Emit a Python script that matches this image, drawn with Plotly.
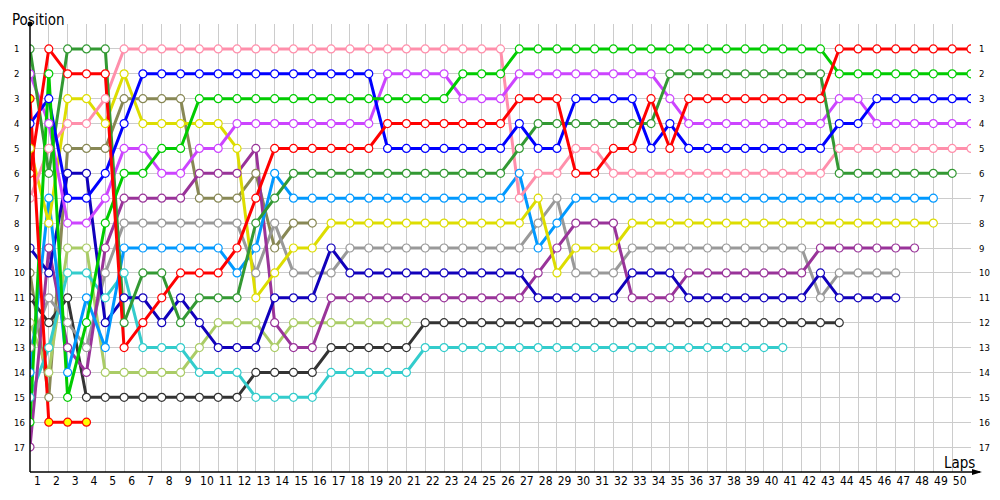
import plotly.graph_objects as go

# ---------------- data: position per lap (index 0 = grid) ----------------
pink = [7, 5, 4, 4, 3] + [1] * 21 + [7, 6, 6, 5, 5] + [6] * 12 + [5] * 8
red = [6, 1, 2, 2, 2, 13, 12, 11, 10, 10, 10, 9, 7, 5, 5, 5, 5, 5, 5] + [4] * 7 + [3, 3, 3, 6, 6, 5, 5, 3, 5] + [3] * 8 + [1] * 8
light_green = [16, 2, 15, 12, 8, 6, 6, 5, 5] + [3] * 14 + [2] * 3 + [1] * 17 + [2] * 8
dark_green = [1, 6, 1, 1, 1, 12, 10, 10, 12, 11, 11, 11, 8, 7] + [6] * 12 + [5] + [4] * 7 + [2] * 9 + [6] * 7
blue = [4, 3, 7, 7, 6, 4] + [2] * 13 + [5] * 7 + [4, 5, 5, 3, 3, 3, 3, 5, 4] + [5] * 8 + [4, 4] + [3] * 6
violet = [2, 4, 8, 8, 7, 5, 5, 6, 6, 5, 5] + [4] * 8 + [2] * 4 + [3] * 3 + [2] * 8 + [3] + [4] * 8 + [3, 3] + [4] * 6
yellow = [5, 8, 3, 3, 4, 2, 4, 4, 4, 4, 4, 5, 11, 10, 9, 9] + [8] * 11 + [7, 10, 9, 9, 9] + [8] * 17
olive = [10, 15, 5, 5, 5, 3, 3, 3, 3, 7, 7, 7, 6, 9, 8, 8]
purple = [17, 9, 13, 14, 9, 7, 7, 7, 7, 6, 6, 6, 5, 12, 13, 13] + [11] * 11 + [10, 9, 8, 8, 8, 11, 11, 11] + [10] * 7 + [9] * 6
gray = [13, 11, 12, 13, 10] + [8] * 7 + [10, 8, 10, 10, 10] + [9] * 10 + [8, 7, 10, 10, 10] + [9] * 10 + [11] + [10] * 4
light_blue = [14, 7, 14, 11, 13] + [9] * 6 + [10, 9, 6] + [7] * 12 + [6, 9, 8] + [7] * 20
dark_blue = [9, 10, 6, 6, 12, 11, 11, 12, 11, 12, 13, 13, 13, 11, 11, 11, 9] + [10] * 10 + [11] * 5 + [10] * 3 + [11] * 7 + [10] + [11] * 4
yellow_green = [12, 14, 9, 9, 14, 14, 14, 14, 14, 13, 12, 12, 12, 13] + [12] * 7
dark_gray = [11, 12, 11, 15] + [15] * 8 + [14] * 4 + [13] * 5 + [12] * 23
cyan = [15, 13, 10, 10, 11, 10, 13, 13, 13, 14, 14, 14, 15, 15, 15, 15] + [14] * 5 + [13] * 20
red_yellow = [3, 16, 16, 16]

lap_labels = [str(n) for n in range(1, 51)]
position_labels = [str(p) for p in range(1, 18)]

series = [
    ("olive", olive, "#888855", "white"),
    ("yellow_green", yellow_green, "#AACC66", "white"),
    ("dark_gray", dark_gray, "#333333", "white"),
    ("cyan", cyan, "#33CCCC", "white"),
    ("gray", gray, "#999999", "white"),
    ("purple", purple, "#993399", "white"),
    ("dark_blue", dark_blue, "#1100BB", "white"),
    ("light_blue", light_blue, "#0099FF", "white"),
    ("yellow", yellow, "#DDDD00", "white"),
    ("pink", pink, "#FF8FAB", "white"),
    ("violet", violet, "#CC44FF", "white"),
    ("dark_green", dark_green, "#339933", "white"),
    ("blue", blue, "#0000FF", "white"),
    ("light_green", light_green, "#00CC00", "white"),
    ("red", red, "#FF0000", "white"),
    ("red_yellow", red_yellow, "#FF0000", "#FFFF00"),
]

FONT = "Tahoma, 'DejaVu Sans Condensed', 'DejaVu Sans', sans-serif"

# the page body adds an 8px offset; compensate so the plot lands where the reference has it
W, H = 992, 492
PLOT_W, PLOT_H = 941, 451
ML, MT = 22, 16

fig = go.Figure()
for name, pos, col, fill in series:
    fig.add_trace(go.Scatter(x=list(range(len(pos))), y=pos, mode="lines",
                             line=dict(color=col, width=3), showlegend=False,
                             hoverinfo="skip"))
for name, pos, col, fill in series:
    fig.add_trace(go.Scatter(x=list(range(len(pos))), y=pos, mode="markers",
                             marker=dict(size=8, color=fill,
                                         line=dict(color=col, width=1.2)),
                             name=name, showlegend=False))

fig.update_layout(
    width=W, height=H,
    margin=dict(l=ML, r=W - ML - PLOT_W, t=MT, b=H - MT - PLOT_H, pad=0),
    paper_bgcolor="white", plot_bgcolor="white",
    font=dict(family=FONT, color="#000000"),
    xaxis=dict(range=[0, 50], tickvals=[n - 0.6 for n in range(1, 51)],
               ticktext=lap_labels, showgrid=False, zeroline=False,
               showline=False, ticks="", tickfont=dict(size=12, family=FONT),
               minor=dict(tickvals=list(range(0, 51)), showgrid=True,
                          gridcolor="#CCCCCC", gridwidth=1, ticks="")),
    yaxis=dict(range=[18, 0], tickvals=list(range(1, 18)), showticklabels=False,
               showgrid=True, gridcolor="#CCCCCC", gridwidth=1, zeroline=False,
               showline=False, ticks=""),
)

# axis lines
fig.add_shape(type="line", xref="paper", yref="paper", x0=0, x1=0, y0=0, y1=1,
              line=dict(color="black", width=1.5))
fig.add_shape(type="line", xref="paper", yref="paper", x0=0, x1=950 / PLOT_W, y0=0, y1=0,
              line=dict(color="black", width=1.5))
fig.add_shape(type="circle", xref="paper", yref="paper", xsizemode="pixel", ysizemode="pixel",
              xanchor=0, yanchor=1, x0=-2.5, x1=2.5, y0=-2.5, y1=2.5,
              fillcolor="black", line=dict(color="black", width=0))
fig.add_shape(type="path", xref="paper", yref="paper", xsizemode="pixel", ysizemode="pixel",
              xanchor=952 / PLOT_W, yanchor=0, path="M -10 -3 L 0 0 L -10 3 Z",
              fillcolor="black", line=dict(color="black", width=0))

# position labels (left and right)
for lbl in position_labels:
    p = int(lbl)
    fig.add_annotation(text=lbl, x=-18 / PLOT_W, y=p, xref="paper", yref="y",
                       xanchor="left", yanchor="middle", showarrow=False,
                       font=dict(size=9.5, family=FONT, color="#000000"))
    fig.add_annotation(text=lbl, x=1 + 6 / PLOT_W, y=p, xref="paper", yref="y",
                       xanchor="left", yanchor="middle", showarrow=False,
                       font=dict(size=9.5, family=FONT, color="#000000"))

fig.add_annotation(text="Position", x=-ML / PLOT_W, y=1 + MT / PLOT_H, xref="paper", yref="paper",
                   xanchor="left", yanchor="top", showarrow=False, xshift=2, yshift=-1,
                   font=dict(size=15, family=FONT, color="#000000"))
fig.add_annotation(text="Laps", x=1.0 - 12 / PLOT_W, y=9 / PLOT_H, xref="paper", yref="paper",
                   xanchor="center", yanchor="middle", showarrow=False,
                   font=dict(size=15, family=FONT, color="#000000"))

fig.write_html("out.html")
